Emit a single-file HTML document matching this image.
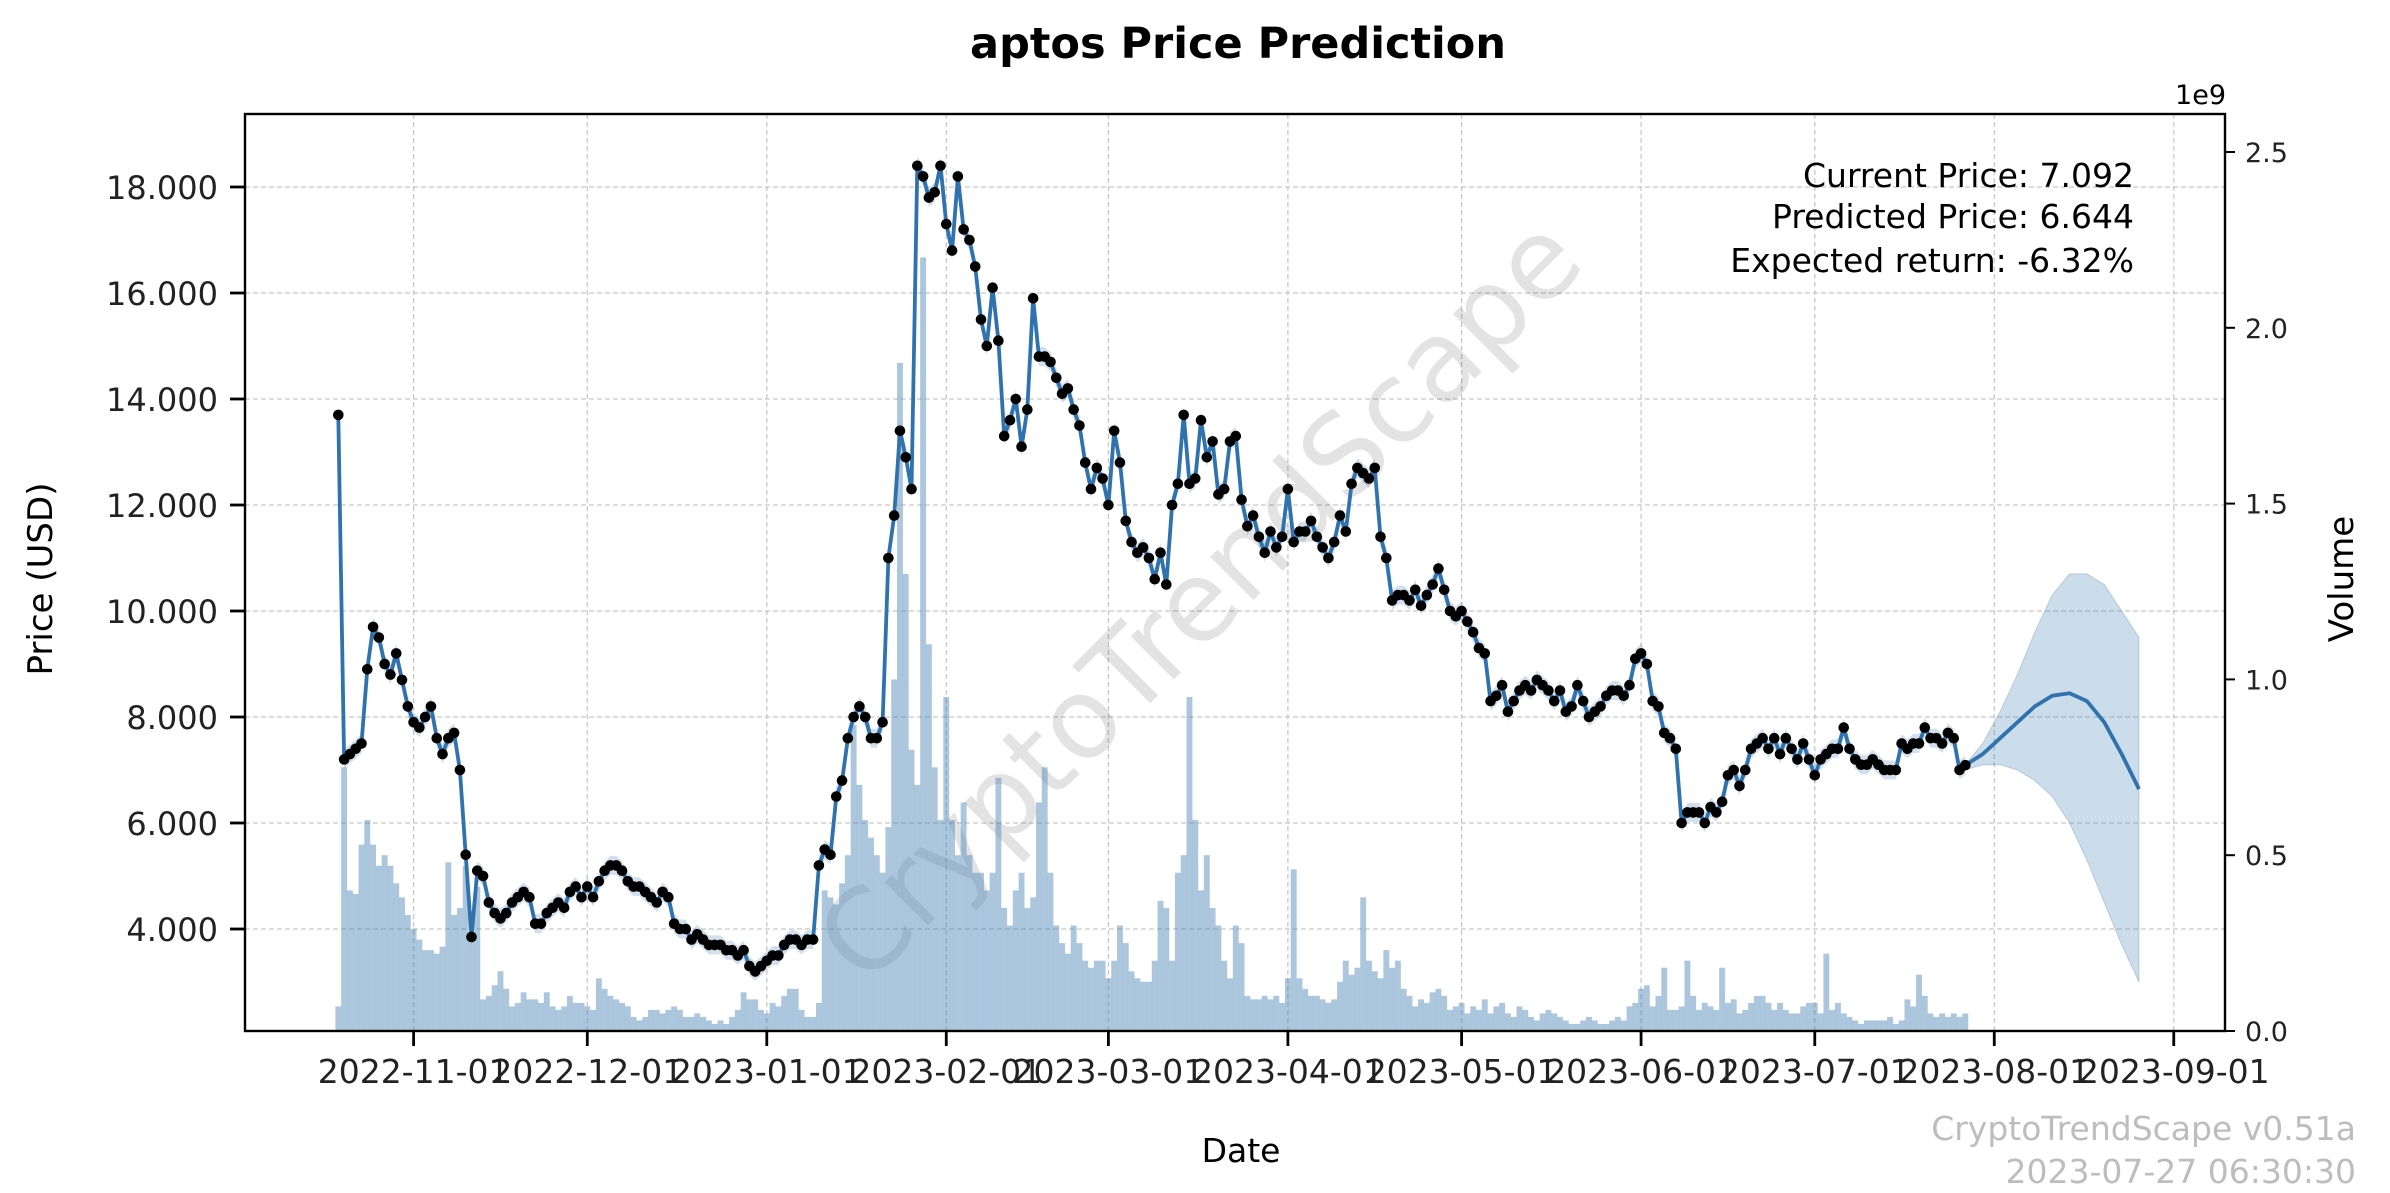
<!DOCTYPE html>
<html><head><meta charset="utf-8"><style>
html,body{margin:0;padding:0;background:#fff;}
svg text{font-family:"DejaVu Sans","Liberation Sans",sans-serif;}
</style></head><body>
<svg id="chart" width="2390" height="1188" viewBox="0 0 2390 1188" xmlns="http://www.w3.org/2000/svg">
<rect width="2390" height="1188" fill="#fff"/>
<g id="grid"></g>
<g id="wm"><text x="0" y="0" transform="translate(1205,605) rotate(-45)" text-anchor="middle" dominant-baseline="middle" font-size="112" fill="#000" fill-opacity="0.11">CryptoTrendScape</text></g>
<g id="bars"></g>
<g id="series"></g>
<g id="axes"></g>
<text x="1238" y="58" text-anchor="middle" font-size="43" font-weight="bold" fill="#000">aptos Price Prediction</text>
<text transform="translate(52,579) rotate(-90)" text-anchor="middle" font-size="34" fill="#000">Price (USD)</text>
<text transform="translate(2353,579) rotate(-90)" text-anchor="middle" font-size="34" fill="#000">Volume</text>
<text x="1241" y="1162" text-anchor="middle" font-size="33" fill="#000">Date</text>
<text x="2226" y="104" text-anchor="end" font-size="27" fill="#000">1e9</text>
<g font-size="33" fill="#000" text-anchor="end">
<text x="2134" y="187">Current Price: 7.092</text>
<text x="2134" y="228">Predicted Price: 6.644</text>
<text x="2134" y="272">Expected return: -6.32%</text>
</g>
<g font-size="33" fill="#bdbdbd" text-anchor="end">
<text x="2356" y="1140">CryptoTrendScape v0.51a</text>
<text x="2356" y="1183">2023-07-27 06:30:30</text>
</g>
</svg>
<script>
const startDate = "2022-10-19";
const prices = [13.7,7.2,7.3,7.4,7.5,8.9,9.7,9.5,9.0,8.8,9.2,8.7,8.2,
7.9,7.8,8.0,8.2,7.6,7.3,7.6,7.7,7.0,5.4,3.85,5.1,5.0,4.5,4.3,4.2,4.3,4.5,4.6,4.7,4.6,4.1,4.1,4.3,4.4,4.5,4.4,4.7,4.8,4.6,
4.8,4.6,4.9,5.1,5.2,5.2,5.1,4.9,4.8,4.8,4.7,4.6,4.5,4.7,4.6,4.1,4.0,4.0,3.8,3.9,3.8,3.7,3.7,3.7,3.6,3.6,3.5,3.6,3.3,3.2,3.3,
3.4,3.5,3.5,3.7,3.8,3.8,3.7,3.8,3.8,5.2,5.5,5.4,6.5,6.8,7.6,8.0,8.2,8.0,7.6,7.6,7.9,11.0,11.8,13.4,12.9,12.3,18.4,18.2,17.8,17.9,18.4,
17.3,16.8,18.2,17.2,17.0,16.5,15.5,15.0,16.1,15.1,13.3,13.6,14.0,13.1,13.8,15.9,14.8,14.8,14.7,14.4,14.1,14.2,13.8,13.5,12.8,12.3,12.7,12.5,
12.0,13.4,12.8,11.7,11.3,11.1,11.2,11.0,10.6,11.1,10.5,12.0,12.4,13.7,12.4,12.5,13.6,12.9,13.2,12.2,12.3,13.2,13.3,12.1,11.6,11.8,11.4,11.1,11.5,11.2,11.4,
12.3,11.3,11.5,11.5,11.7,11.4,11.2,11.0,11.3,11.8,11.5,12.4,12.7,12.6,12.5,12.7,11.4,11.0,10.2,10.3,10.3,10.2,10.4,10.1,10.3,10.5,10.8,10.4,10.0,9.9,
10.0,9.8,9.6,9.3,9.2,8.3,8.4,8.6,8.1,8.3,8.5,8.6,8.5,8.7,8.6,8.5,8.3,8.5,8.1,8.2,8.6,8.3,8.0,8.1,8.2,8.4,8.5,8.5,8.4,8.6,9.1,
9.2,9.0,8.3,8.2,7.7,7.6,7.4,6.0,6.2,6.2,6.2,6.0,6.3,6.2,6.4,6.9,7.0,6.7,7.0,7.4,7.5,7.6,7.4,7.6,7.3,7.6,7.4,7.2,7.5,7.2,
6.9,7.2,7.3,7.4,7.4,7.8,7.4,7.2,7.1,7.1,7.2,7.1,7.0,7.0,7.0,7.5,7.4,7.5,7.5,7.8,7.6,7.6,7.5,7.7,7.6,7.0,7.09];
const volumes = [0.07,0.75,0.4,0.39,0.53,0.6,0.53,0.47,0.5,0.47,0.42,0.38,0.33,
0.29,0.26,0.23,0.23,0.22,0.24,0.48,0.33,0.35,0.47,0.27,0.41,0.09,0.1,0.13,0.17,0.12,0.07,0.08,0.11,0.09,0.09,0.08,0.11,0.07,0.06,0.07,0.1,0.08,0.08,
0.07,0.06,0.15,0.12,0.1,0.09,0.08,0.07,0.04,0.03,0.04,0.06,0.06,0.05,0.06,0.07,0.06,0.04,0.04,0.05,0.04,0.03,0.02,0.03,0.02,0.04,0.06,0.11,0.09,0.09,0.06,
0.05,0.08,0.07,0.1,0.12,0.12,0.06,0.04,0.04,0.08,0.4,0.38,0.36,0.42,0.5,0.87,0.7,0.6,0.55,0.5,0.45,0.58,1.0,1.9,1.3,0.8,0.7,2.2,1.1,0.75,0.6,
0.95,0.6,0.5,0.65,0.5,0.45,0.45,0.4,0.45,0.72,0.35,0.3,0.4,0.45,0.35,0.38,0.65,0.75,0.45,0.3,0.25,0.22,0.3,0.25,0.2,0.18,0.2,0.2,
0.15,0.2,0.3,0.25,0.17,0.15,0.14,0.14,0.2,0.37,0.35,0.2,0.45,0.5,0.95,0.6,0.4,0.5,0.35,0.3,0.2,0.15,0.3,0.25,0.1,0.09,0.09,0.1,0.09,0.1,0.08,
0.15,0.46,0.15,0.12,0.1,0.1,0.09,0.08,0.09,0.14,0.2,0.16,0.18,0.38,0.2,0.17,0.15,0.23,0.18,0.2,0.12,0.1,0.07,0.09,0.08,0.11,0.12,0.1,0.06,0.07,
0.08,0.05,0.07,0.06,0.09,0.05,0.07,0.08,0.05,0.04,0.07,0.06,0.04,0.03,0.05,0.06,0.05,0.04,0.03,0.02,0.02,0.03,0.04,0.03,0.02,0.02,0.03,0.04,0.03,0.07,0.08,
0.12,0.13,0.07,0.1,0.18,0.06,0.06,0.07,0.2,0.1,0.06,0.08,0.07,0.06,0.18,0.08,0.09,0.05,0.06,0.08,0.1,0.1,0.08,0.06,0.08,0.06,0.05,0.05,0.07,0.08,
0.08,0.05,0.22,0.06,0.08,0.05,0.04,0.03,0.02,0.03,0.03,0.03,0.03,0.04,0.02,0.03,0.09,0.07,0.16,0.1,0.05,0.04,0.05,0.04,0.05,0.04,0.05];
const forecastDays = [0,3,6,9,12,15,18,21,24,27,30];
const forecastMid = [7.09,7.3,7.6,7.9,8.2,8.4,8.45,8.3,7.9,7.3,6.64];
const forecastUpper = [7.1,7.5,8.1,8.8,9.6,10.3,10.7,10.7,10.5,10.0,9.5];
const forecastLower = [7.0,7.1,7.1,7.0,6.8,6.5,6.0,5.3,4.5,3.7,3.0];
const priceTicks = [4,6,8,10,12,14,16,18];
const priceTickLabels = ["4.000","6.000","8.000","10.000","12.000","14.000","16.000","18.000"];
const volTicks = [0,0.5,1.0,1.5,2.0,2.5];
const volTickLabels = ["0.0","0.5","1.0","1.5","2.0","2.5"];
const dateTicks = ["2022-11-01","2022-12-01","2023-01-01","2023-02-01","2023-03-01","2023-04-01","2023-05-01","2023-06-01","2023-07-01","2023-08-01","2023-09-01"];

const L=245,R=2225,T=114,B=1031;
const NS="http://www.w3.org/2000/svg";
const DAY=86400000;
const ref=Date.parse("2022-11-01T00:00:00Z");
function dayIdx(s){return (Date.parse(s+"T00:00:00Z")-ref)/DAY;}
function xs(d){return 413.6+d*5.79;}
function yp(p){return 187+(18-p)*53;}
function yv(v){return B-v*351.6;}
function el(tag,attrs,parent){const e=document.createElementNS(NS,tag);for(const k in attrs)e.setAttribute(k,attrs[k]);parent.appendChild(e);return e;}
const g=id=>document.getElementById(id);
const start=dayIdx(startDate);

priceTicks.forEach(p=>{const l=el('line',{x1:L,x2:R,y1:yp(p),y2:yp(p),stroke:'#c8c8c8','stroke-width':1.3,'stroke-dasharray':'5,3'},g('grid'));

});
dateTicks.forEach(s=>{const x=xs(dayIdx(s));const l=el('line',{x1:x,x2:x,y1:T,y2:B,stroke:'#c8c8c8','stroke-width':1.3,'stroke-dasharray':'5,3'},g('grid'));

});

volumes.forEach((v,i)=>{const x=xs(start+i);const r=el('rect',{x:x-2.95,y:yv(v),width:5.9,height:B-yv(v),fill:'#4682b4','fill-opacity':0.45},g('bars'));

});

let up='',dn='';
prices.forEach((p,i)=>{up+=(i?'L':'M')+xs(start+i).toFixed(1)+','+yp(p+0.18).toFixed(1);});
for(let i=prices.length-1;i>=0;i--){dn+='L'+xs(start+i).toFixed(1)+','+yp(prices[i]-0.18).toFixed(1);}
const hb=el('path',{d:up+dn+'Z',fill:'#4682b4','fill-opacity':0.25},g('series'));



const fStart=start+prices.length-1;
let fb='';
forecastDays.forEach((d,i)=>{fb+=(i?'L':'M')+xs(fStart+d).toFixed(1)+','+yp(forecastUpper[i]).toFixed(1);});
for(let i=forecastDays.length-1;i>=0;i--){fb+='L'+xs(fStart+forecastDays[i]).toFixed(1)+','+yp(forecastLower[i]).toFixed(1);}
const fbe=el('path',{d:fb+'Z',fill:'#4682b4','fill-opacity':0.28,stroke:'#4682b4','stroke-opacity':0.3},g('series'));



let pl='';
prices.forEach((p,i)=>{pl+=(i?'L':'M')+xs(start+i).toFixed(1)+','+yp(p).toFixed(1);});
const ple=el('path',{d:pl,fill:'none',stroke:'#2f72ad','stroke-width':3.8,'stroke-linejoin':'round'},g('series'));



let fl='';
forecastDays.forEach((d,i)=>{fl+=(i?'L':'M')+xs(fStart+d).toFixed(1)+','+yp(forecastMid[i]).toFixed(1);});
const fle=el('path',{d:fl,fill:'none',stroke:'#2f72ad','stroke-width':3.8,'stroke-linejoin':'round'},g('series'));



prices.forEach((p,i)=>{const c=el('circle',{cx:xs(start+i),cy:yp(p),r:5.3,fill:'#000'},g('series'));

});

const fr=el('rect',{x:L,y:T,width:R-L,height:B-T,fill:'none',stroke:'#000','stroke-width':2.4},g('axes'));


priceTicks.forEach((p,i)=>{const y=yp(p);
const t=el('line',{x1:L-15,x2:L,y1:y,y2:y,stroke:'#000','stroke-width':2.8},g('axes'));


const tx=el('text',{x:L-27,y:y+12,'text-anchor':'end','font-size':32,fill:'#222'},g('axes'));
tx.textContent=priceTickLabels[i];

});
volTicks.forEach((v,i)=>{const y=yv(v);
const t=el('line',{x1:R,x2:R+10,y1:y,y2:y,stroke:'#000','stroke-width':2},g('axes'));


const tx=el('text',{x:R+20,y:y+10,'font-size':27,fill:'#222'},g('axes'));
tx.textContent=volTickLabels[i];

});
dateTicks.forEach(s=>{const x=xs(dayIdx(s));
const t=el('line',{x1:x,x2:x,y1:B,y2:B+15,stroke:'#000','stroke-width':2.8},g('axes'));


const tx=el('text',{x:x,y:B+52,'text-anchor':'middle','font-size':33,fill:'#222'},g('axes'));
tx.textContent=s;

});
</script>
</body></html>
